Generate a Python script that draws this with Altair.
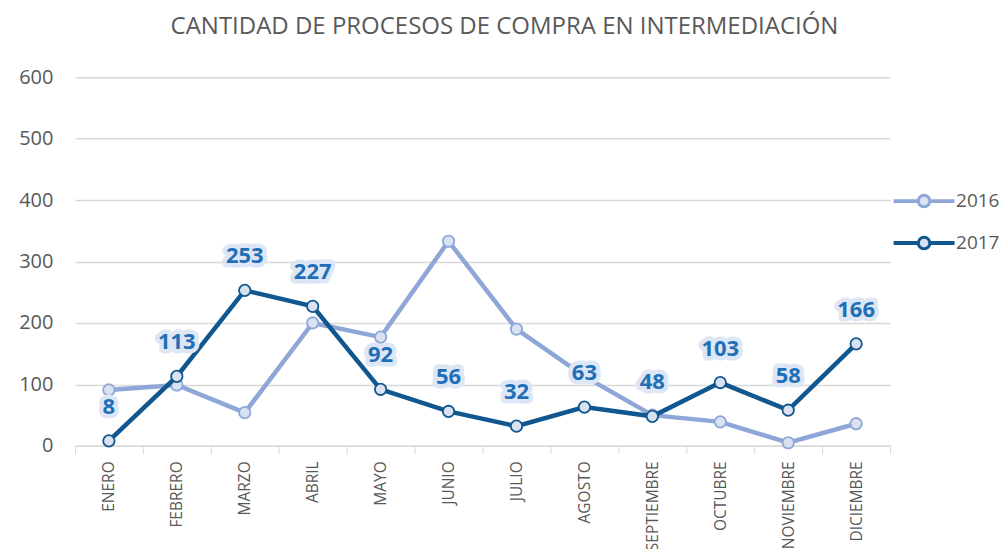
import altair as alt
import pandas as pd

months = ["ENERO", "FEBRERO", "MARZO", "ABRIL", "MAYO", "JUNIO", "JULIO",
          "AGOSTO", "SEPTIEMBRE", "OCTUBRE", "NOVIEMBRE", "DICIEMBRE"]
series = ["2016", "2017"]
v2016 = [91, 99, 54, 200, 177, 333, 190, 113, 50, 39, 5, 36]
v2017 = [8, 113, 253, 227, 92, 56, 32, 63, 48, 103, 58, 166]
colors = ["#8EA6D8", "#10568F"]

rows = []
for m, a, b in zip(months, v2016, v2017):
    rows.append({"mes": m, "serie": "2016", "valor": a})
    rows.append({"mes": m, "serie": "2017", "valor": b})
df = pd.DataFrame(rows)

FONT = "Open Sans"
GREY = "#595959"

legend_path = ("M-2,-0.03H-0.42V0.03H-2Z M0.42,-0.03H2V0.03H0.42Z "
               "M0.4,0A0.4,0.4 0 1 1 -0.4,0A0.4,0.4 0 1 1 0.4,0Z")
legend = alt.Legend(
    title=None, orient="none", legendX=834, legendY=108,
    symbolType=legend_path, symbolSize=841, symbolStrokeWidth=3,
    symbolFillColor="#dbe3f3", labelOffset=16, rowPadding=14,
    labelFont=FONT, labelFontSize=19, labelColor=GREY,
)

x = alt.X("mes:N", sort=months,
          scale=alt.Scale(type="band", paddingInner=0, paddingOuter=0),
          axis=alt.Axis(title=None, labelAngle=-90, tickBand="extent",
                        labelFont=FONT, labelFontSize=15.5, labelColor=GREY,
                        labelPadding=7, domainColor="#d9d9d9", tickColor="#d9d9d9",
                        tickSize=8, domainWidth=1.5, grid=False))
y = alt.Y("valor:Q", scale=alt.Scale(domain=[0, 600], nice=False),
          axis=alt.Axis(title=None, values=[0, 100, 200, 300, 400, 500, 600],
                        labelFont=FONT, labelFontSize=20, labelColor=GREY,
                        labelPadding=22, ticks=False, domain=False,
                        gridColor="#d9d9d9", gridWidth=1.5))
color = alt.Color("serie:N", scale=alt.Scale(domain=series, range=colors), legend=legend)

base = alt.Chart(df).encode(x=x, y=y, color=color)

layers = []
for s in series:
    sub = base.transform_filter(alt.datum.serie == s)
    layers.append(sub.mark_line(strokeWidth=4.5))
    layers.append(sub.mark_point(shape="circle", size=130, filled=False,
                                 fill="#dae2f2", fillOpacity=1, strokeWidth=1.8, opacity=1))

lab = base.transform_filter(alt.datum.serie == "2017")
halo = lab.mark_text(dy=-34, font=FONT, fontSize=22, fontWeight="bold",
                     stroke="#dde6f4", strokeWidth=9, strokeJoin="round",
                     fill="#dde6f4").encode(text="valor:Q", color=alt.value("#dde6f4"))
txt = lab.mark_text(dy=-34, font=FONT, fontSize=22, fontWeight="bold").encode(
    text="valor:Q", color=alt.value("#1F6FB8"))
layers += [halo, txt]

chart = alt.layer(*layers).properties(
    width=816, height=369,
    autosize=alt.AutoSizeParams(type="none"),
    padding={"left": 67, "top": 69, "right": 110, "bottom": 103},
    title=alt.TitleParams("CANTIDAD DE PROCESOS DE COMPRA EN INTERMEDIACIÓN",
                          font=FONT, fontSize=24, fontWeight="normal", color=GREY,
                          anchor="middle", dx=22, offset=28),
).configure_view(stroke=None)

chart.save("out.html", embed_options={"renderer": "svg", "actions": False})
